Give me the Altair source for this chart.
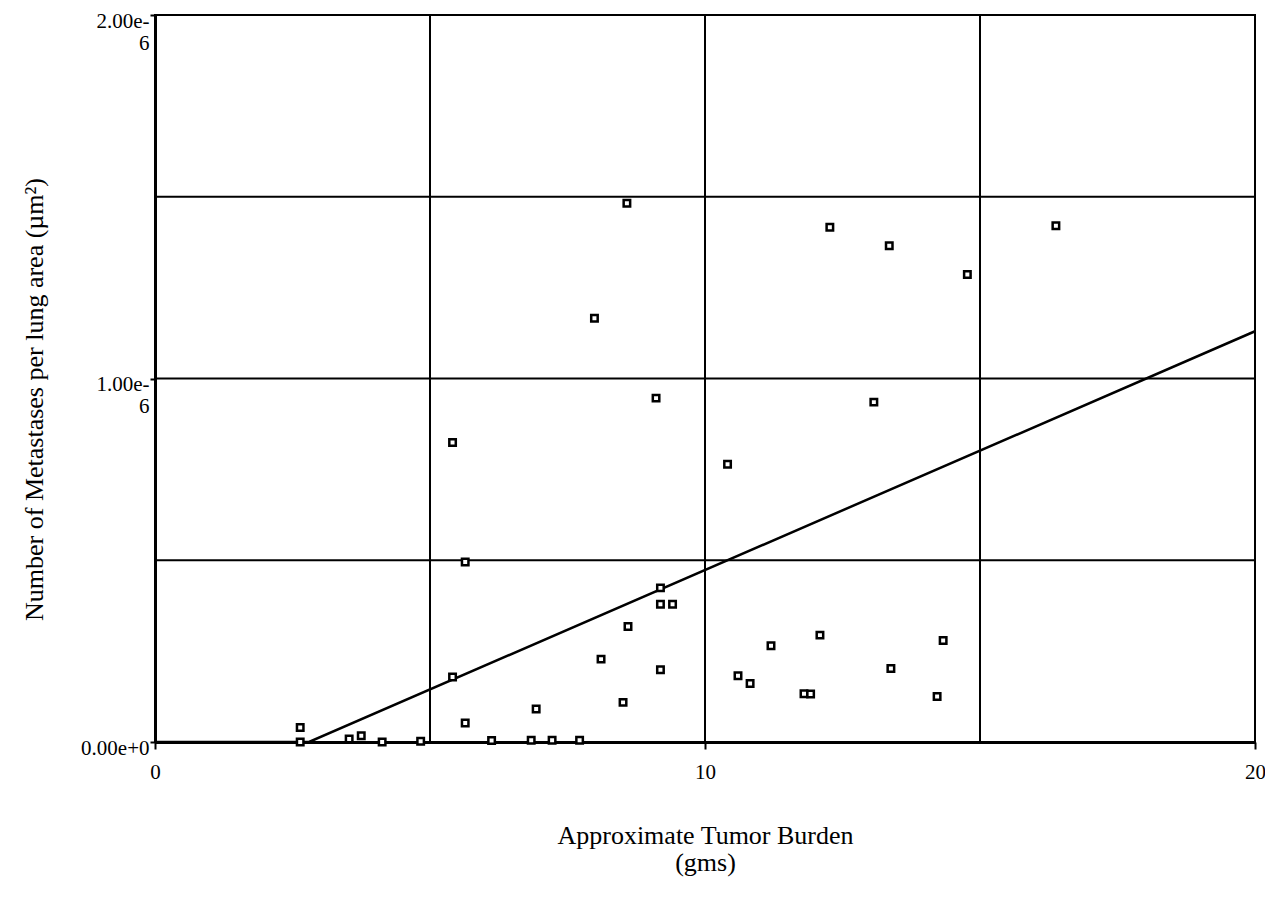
import altair as alt
import pandas as pd

# Scatter data: tumor burden (gms) vs metastases per lung area
burden = [2.64, 2.64, 3.53, 3.75, 4.13, 4.83, 5.41, 5.64, 5.41, 5.64,
          6.12, 6.84, 6.93, 7.22, 7.72, 7.99, 8.11, 8.51, 8.60, 8.58,
          9.11, 9.19, 9.19, 9.41, 9.19, 10.41, 10.60, 10.82, 11.20, 11.80,
          11.92, 12.09, 12.27, 13.07, 13.35, 13.38, 14.22, 14.33, 14.77, 16.38]
metastases = [0.040e-6, 0.000e-6, 0.008e-6, 0.017e-6, 0.000e-6, 0.002e-6, 0.824e-6, 0.495e-6, 0.179e-6, 0.052e-6,
              0.004e-6, 0.005e-6, 0.091e-6, 0.005e-6, 0.005e-6, 1.166e-6, 0.228e-6, 0.109e-6, 0.318e-6, 1.482e-6,
              0.946e-6, 0.424e-6, 0.379e-6, 0.379e-6, 0.199e-6, 0.764e-6, 0.182e-6, 0.161e-6, 0.265e-6, 0.133e-6,
              0.132e-6, 0.294e-6, 1.416e-6, 0.935e-6, 1.365e-6, 0.202e-6, 0.125e-6, 0.279e-6, 1.286e-6, 1.420e-6]

# Fitted regression line (clipped at zero)
fit_x = [0.0, 2.8, 20.0]
fit_y = [0.0, 0.0, 1.13e-6]

# Grid lines
grid_x = [5, 10, 15]
grid_y = [0.5e-6, 1.0e-6, 1.5e-6]

x_ticks = [0, 10, 20]
y_ticks = [0, 1e-6, 2e-6]

pts = pd.DataFrame({"x": burden, "y": metastases})
fit = pd.DataFrame({"x": fit_x, "y": fit_y})
gx = pd.DataFrame({"x": grid_x})
gy = pd.DataFrame({"y": grid_y})

FONT = "Liberation Serif"

xscale = alt.Scale(domain=[0, 20], nice=False, zero=False)
yscale = alt.Scale(domain=[0, 2e-6], nice=False, zero=False)

xaxis = alt.Axis(
    values=x_ticks, format="d", grid=False,
    title=["Approximate Tumor Burden", "(gms)"],
    titleFont=FONT, titleFontSize=26, titleFontWeight="normal", titleColor="black",
    titleX=550, titleY=80, titleBaseline="top", titleAlign="center", titleLineHeight=27,
    labelFont=FONT, labelFontSize=21, labelColor="black", labelBaseline="top",
    tickSize=7, tickColor="black", tickWidth=2, labelPadding=12,
    domainColor="black", domainWidth=3, labelFlush=False,
)
yaxis = alt.Axis(
    values=y_ticks, grid=False,
    labelExpr="datum.value == 0 ? '0.00e+0' : [format(datum.value * 1e6, '.2f') + 'e-', '6']",
    title="Number of Metastases per lung area (\u00b5m\u00b2)",
    titleFont=FONT, titleFontSize=26, titleFontWeight="normal", titleColor="black",
    titleX=-113, titleY=384, titleAngle=-90, titleBaseline="alphabetic", titleAlign="center",
    labelFont=FONT, labelFontSize=21, labelColor="black", labelBaseline="top", labelOffset=-5,
    labelAlign="right", labelLineHeight=22,
    tickSize=5, tickColor="black", tickWidth=2, labelPadding=1,
    domainColor="black", domainWidth=3, labelFlush=False,
)

vgrid = alt.Chart(gx).mark_rule(color="black", strokeWidth=2).encode(
    x=alt.X("x:Q", scale=xscale, axis=xaxis)
)
hgrid = alt.Chart(gy).mark_rule(color="black", strokeWidth=2).encode(
    y=alt.Y("y:Q", scale=yscale, axis=yaxis)
)
line = alt.Chart(fit).mark_line(color="black", strokeWidth=2.5).encode(
    x=alt.X("x:Q", scale=xscale), y=alt.Y("y:Q", scale=yscale)
)
points = alt.Chart(pts).mark_square(size=42, fill="white", stroke="black", strokeWidth=2.5, opacity=1).encode(
    x=alt.X("x:Q", scale=xscale), y=alt.Y("y:Q", scale=yscale)
)

chart = alt.layer(vgrid, hgrid, line, points).properties(
    width=1100, height=727,
    autosize=alt.AutoSizeParams(type="none"),
    padding={"left": 147, "top": 7, "right": 10, "bottom": 150},
    background="white",
).configure_view(stroke="black", strokeWidth=2)

chart.save("out.html", embed_options={"renderer": "svg", "actions": False})
